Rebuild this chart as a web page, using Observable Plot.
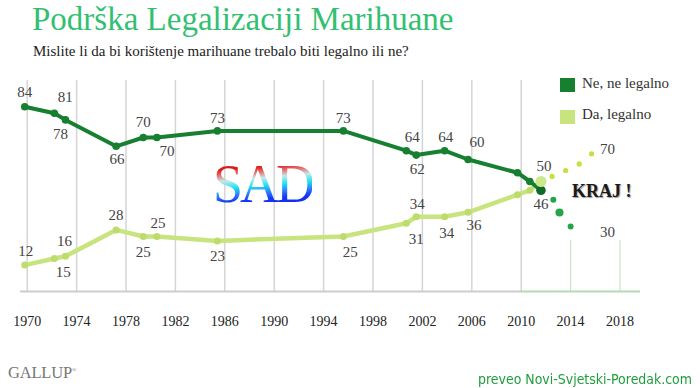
<!DOCTYPE html>
<html>
<head>
<meta charset="utf-8">
<script src="https://cdn.jsdelivr.net/npm/d3@7"></script>
<script src="https://cdn.jsdelivr.net/npm/@observablehq/plot@0.6"></script>
<style>
  body { margin: 0; background: #fff; width: 700px; height: 388px; position: relative; overflow: hidden; font-family: "Liberation Serif", "DejaVu Serif", serif; }
  #head { height: 66px; position: relative; }
  #title { position: absolute; left: 32px; top: 3px; font-size: 33px; line-height: 1; color: #33bf72; white-space: nowrap; }
  #subtitle { position: absolute; left: 33px; top: 44px; font-size: 15px; line-height: 1; color: #222; white-space: nowrap; }
  #chart { position: relative; height: 270px; }
  .abs { position: absolute; white-space: nowrap; line-height: 1; }
  .sw { position: absolute; width: 15px; height: 14px; }
  .lg { font-size: 15px; color: #333; }
  #sad { font-size: 54px; letter-spacing: -3px; font-family: "Liberation Serif", serif;
    background: linear-gradient(175deg, #d40808 0%, #dc1e1e 22%, #e86a6a 30%, #c8e8e8 40%, #22e4f0 52%, #2a7cff 64%, #1438f4 74%, #0818e8 100%);
    -webkit-background-clip: text; background-clip: text; color: transparent; }
  #kraj { font-size: 18px; font-weight: bold; color: #1a1a1a; text-shadow: 1px 1px 1px #999; }
  #gallup { font-size: 16.5px; color: #777; letter-spacing: -0.2px; }
  #gallup sup { font-size: 6px; vertical-align: top; position: relative; top: 2px; }
  #credit { font-family: "DejaVu Sans Condensed", "Liberation Sans Narrow", "Liberation Sans", sans-serif; font-size: 14px; color: #1f9e3f; transform-origin: 0 0; }
</style>
</head>
<body>
<div id="head">
  <div id="title">Podrška Legalizaciji Marihuane</div>
  <div id="subtitle">Mislite li da bi korištenje marihuane trebalo biti legalno ili ne?</div>
</div>
<div id="chart"></div>
<div id="legend"></div>
<div class="abs" id="sad" style="left:213px; top:157px;">SAD</div>
<div class="abs" id="kraj" style="left:572px; top:182px;">KRAJ !</div>
<div class="abs" id="gallup" style="left:8px; top:365px;">GALLUP<sup>®</sup></div>
<div class="abs" id="credit" style="left:478px; top:372px;">preveo Novi-Svjetski-Poredak.com</div>
<script>
// ---- data ----
const years    = [1969.8, 1972.2, 1973.1, 1977.2, 1979.4, 1980.5, 1985.4, 1995.6, 2000.7, 2001.5, 2003.8, 2005.7, 2009.7, 2010.7, 2011.6];
const notLegal = [84, 81, 78, 66, 70, 70, 73, 73, 64, 62, 64, 60, 54, 50, 46];
const legal    = [12, 15, 16, 28, 25, 25, 23, 25, 31, 34, 34, 36, 44, 46, 50];
const projNotYears   = [2012.6, 2013.1, 2014.0];
const projNot        = [41.7, 35.9, 29.5];
const projLegalYears = [2012.5, 2013.6, 2014.7, 2015.7];
const projLegal      = [52.3, 55, 58, 62.6];
const projEndLabels  = [70, 30];   // [Da, Ne]
const tickYears = [1970, 1974, 1978, 1982, 1986, 1990, 1994, 1998, 2002, 2006, 2010, 2014, 2018];
const seriesNames = ["Ne, ne legalno", "Da, legalno"];

// ---- styling ----
const DARK = "#167f30", LIGHT = "#c8e47e", LIGHT_DOT = "#bddc6c";
const PROJ_DARK = "#23a548", PROJ_LIGHT = "#c6e03c";
const LABEL = "#444";

const notRows = years.map((year, i) => ({year, value: notLegal[i]}));
const legalRows = years.map((year, i) => ({year, value: legal[i]}));
const projNotRows = projNotYears.map((year, i) => ({year, value: projNot[i]}));
const projLegalRows = projLegalYears.map((year, i) => ({year, value: projLegal[i]}));
const pastGrid = tickYears.filter(y => y <= 2010);
const futureGrid = tickYears.filter(y => y > 2010);

// label placement per point index: [dx, dy]; missing = no label
const notOff = {0:[0,-15],1:[11,-16],2:[-5,14],3:[1,13],4:[0,-15],5:[10,14],6:[0,-13],7:[0,-13],8:[6,-14],9:[1,14],10:[1,-14],11:[9,-17],14:[0,14]};
const legOff = {0:[1,-14],1:[9,14],2:[-1,-15],3:[0,-15],4:[0,16],5:[1,-13],6:[0,15],7:[7,16],8:[10,16],9:[1,-13],10:[2,16],11:[6,13],14:[3,-15]};

const labelMarks = [];
for (const [rows, off] of [[notRows, notOff], [legalRows, legOff]]) {
  for (const k of Object.keys(off)) {
    const [dx, dy] = off[k];
    labelMarks.push(Plot.text([rows[+k]], {x: "year", y: "value", text: d => String(d.value), dx, dy, fill: LABEL, fontSize: 15}));
  }
}
// projected end labels
labelMarks.push(Plot.text([projLegalRows[projLegalRows.length - 1]], {x: "year", y: "value", text: () => String(projEndLabels[0]), dx: 16, dy: -5, fill: LABEL, fontSize: 15}));
labelMarks.push(Plot.text([projNotRows[projNotRows.length - 1]], {x: "year", y: "value", text: () => String(projEndLabels[1]), dx: 37, dy: 6, fill: LABEL, fontSize: 15}));

const plot = Plot.plot({
  width: 700,
  height: 270,
  marginTop: 5,
  marginBottom: 45,
  marginLeft: 2,
  marginRight: 6.4,
  x: {domain: [1968, 2024], axis: null},
  y: {domain: [0, 100], axis: null},
  style: {fontFamily: "'Liberation Serif', 'DejaVu Serif', serif", fontSize: "14px", color: "#222", background: "transparent", overflow: "visible"},
  marks: [
    Plot.ruleX(pastGrid, {stroke: "#d5d5d5", strokeWidth: 1.5, insetTop: 9}),
    Plot.ruleX(futureGrid, {stroke: "#c8e4c8", strokeWidth: 1.2, insetTop: 169}),
    Plot.ruleY([0], {stroke: "#cdcdcd", strokeWidth: 2, insetLeft: 18, insetRight: 173.6}),
    Plot.ruleY([0], {stroke: "#b2dbb2", strokeWidth: 2, insetLeft: 518, insetRight: 53.6}),
    Plot.axisX({ticks: tickYears, tickFormat: d => String(d), tickSize: 0, tickPadding: 25, fontSize: 14, fill: "#222", label: null}),
    Plot.line(legalRows, {x: "year", y: "value", stroke: LIGHT, strokeWidth: 4.5}),
    Plot.dot(legalRows.slice(0, -1), {x: "year", y: "value", r: 3.5, fill: LIGHT_DOT}),
    Plot.line(notRows, {x: "year", y: "value", stroke: DARK, strokeWidth: 4}),
    Plot.dot(notRows.slice(0, -1), {x: "year", y: "value", r: 3.8, fill: DARK}),
    Plot.dot(notRows.slice(-1), {x: "year", y: "value", r: 4.8, fill: "#0e6b27"}),
    Plot.dot(legalRows.slice(-1), {x: "year", y: "value", r: 5.5, fill: "#cde88a"}),
    Plot.dot(projNotRows, {x: "year", y: "value", r: (d, i) => i === 1 ? 4 : 2.2, fill: PROJ_DARK}),
    Plot.dot(projLegalRows, {x: "year", y: "value", r: 2.6, fill: PROJ_LIGHT}),
    ...labelMarks
  ]
});
document.getElementById("chart").appendChild(plot);

// legend (HTML overlay, top right)
const legend = document.getElementById("legend");
const legendColors = [DARK, LIGHT];
seriesNames.forEach((name, i) => {
  const top = 78 + i * 31.5;
  const sw = document.createElement("div");
  sw.className = "sw";
  sw.style.left = "560px"; sw.style.top = top + "px"; sw.style.background = legendColors[i];
  legend.appendChild(sw);
  const t = document.createElement("div");
  t.className = "abs lg";
  t.style.left = "582px"; t.style.top = (top - 2.5) + "px";
  t.textContent = name;
  legend.appendChild(t);
});

// fit the credit line to the reference width
const credit = document.getElementById("credit");
const w = credit.getBoundingClientRect().width;
if (w > 0) credit.style.transform = `scaleX(${214 / w})`;
</script>
</body>
</html>
